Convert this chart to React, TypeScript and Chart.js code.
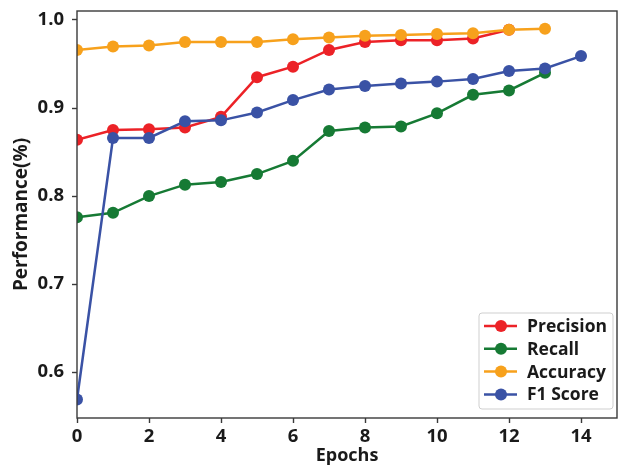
import React, { useEffect, useRef } from "react";
import { Chart, registerables } from "chart.js";

Chart.register(...registerables);

const epochs = [0, 1, 2, 3, 4, 5, 6, 7, 8, 9, 10, 11, 12, 13, 14];
const precision = [0.864, 0.875, 0.876, 0.878, 0.89, 0.935, 0.947, 0.966, 0.975, 0.977, 0.977, 0.979, 0.989];
const recall = [0.776, 0.781, 0.8, 0.813, 0.816, 0.825, 0.84, 0.874, 0.878, 0.879, 0.894, 0.915, 0.92, 0.94];
const accuracy = [0.966, 0.97, 0.971, 0.975, 0.975, 0.975, 0.978, 0.98, 0.982, 0.983, 0.984, 0.985, 0.989, 0.99];
const f1Score = [0.569, 0.866, 0.866, 0.885, 0.886, 0.895, 0.909, 0.921, 0.925, 0.928, 0.93, 0.933, 0.942, 0.945, 0.959];
const xTicks = [0, 2, 4, 6, 8, 10, 12, 14];
const yTicks = [0.6, 0.7, 0.8, 0.9, 1.0];

const seriesNames = ["Precision", "Recall", "Accuracy", "F1 Score"];
const seriesValues = [precision, recall, accuracy, f1Score];
const seriesColors = ["#ec2227", "#167a34", "#f7a11c", "#3a52a5"];

const FONT = "'Open Sans', 'DejaVu Sans', sans-serif";
const TEXT = "#1a1a1a";
const AXIS = "#3a3a3a";

const framePlugin = {
  id: "frameAndLegend",
  afterDraw(chart: any) {
    const { ctx, chartArea } = chart;
    const { left, right, top, bottom } = chartArea;
    ctx.save();
    ctx.strokeStyle = AXIS;
    ctx.lineWidth = 1.4;
    ctx.strokeRect(left, top, right - left, bottom - top);

    // legend box
    const bw = 134;
    const bh = 96;
    const bx = right - 4 - bw;
    const by = bottom - 9 - bh;
    ctx.fillStyle = "rgba(255,255,255,0.85)";
    ctx.strokeStyle = "#cfcfcf";
    ctx.lineWidth = 1;
    ctx.beginPath();
    const r = 3;
    ctx.moveTo(bx + r, by);
    ctx.lineTo(bx + bw - r, by);
    ctx.quadraticCurveTo(bx + bw, by, bx + bw, by + r);
    ctx.lineTo(bx + bw, by + bh - r);
    ctx.quadraticCurveTo(bx + bw, by + bh, bx + bw - r, by + bh);
    ctx.lineTo(bx + r, by + bh);
    ctx.quadraticCurveTo(bx, by + bh, bx, by + bh - r);
    ctx.lineTo(bx, by + r);
    ctx.quadraticCurveTo(bx, by, bx + r, by);
    ctx.closePath();
    ctx.fill();
    ctx.stroke();

    ctx.font = `bold 17.5px ${FONT}`;
    ctx.textBaseline = "middle";
    ctx.textAlign = "left";
    seriesNames.forEach((name, i) => {
      const y = by + 13 + i * 22.8;
      ctx.strokeStyle = seriesColors[i];
      ctx.lineWidth = 2.5;
      ctx.beginPath();
      ctx.moveTo(bx + 5, y);
      ctx.lineTo(bx + 38, y);
      ctx.stroke();
      ctx.fillStyle = seriesColors[i];
      ctx.beginPath();
      ctx.arc(bx + 22, y, 6, 0, Math.PI * 2);
      ctx.fill();
      ctx.fillStyle = TEXT;
      ctx.fillText(name, bx + 48, y + 1);
    });
    ctx.restore();
  },
};

export default function App() {
  const canvasRef = useRef<HTMLCanvasElement | null>(null);

  useEffect(() => {
    document.body.style.margin = "0";
    const canvas = canvasRef.current;
    if (!canvas) return;
    const datasets = seriesNames.map((name, i) => ({
      label: name,
      data: seriesValues[i].map((v, j) => ({ x: epochs[j], y: v })),
      borderColor: seriesColors[i],
      backgroundColor: seriesColors[i],
      pointBackgroundColor: seriesColors[i],
      pointBorderColor: seriesColors[i],
      borderWidth: 2.5,
      pointRadius: 6,
      pointBorderWidth: 0,
      tension: 0,
      fill: false,
      clip: 0,
      order: seriesNames.length - i,
    }));
    const chart = new Chart(canvas, {
      type: "line",
      data: { datasets },
      options: {
        animation: false,
        responsive: false,
        maintainAspectRatio: false,
        layout: { padding: { top: 11, right: 9, bottom: 0, left: 0 } },
        plugins: {
          legend: { display: false },
          tooltip: { enabled: false },
        },
        scales: {
          x: {
            type: "linear",
            min: 0,
            max: 15,
            afterBuildTicks: (scale: any) => {
              scale.ticks = xTicks.map((v) => ({ value: v }));
            },
            afterFit: (scale: any) => {
              scale.height = 48;
              scale.paddingLeft = 0;
              scale.paddingRight = 0;
            },
            grid: {
              drawOnChartArea: false,
              drawTicks: true,
              tickLength: 5,
              tickColor: AXIS,
              tickWidth: 1.4,
            },
            border: { display: false },
            ticks: {
              padding: 3,
              color: TEXT,
              font: { family: FONT, size: 18.5, weight: "bold" },
              callback: (v: any) => String(v),
              maxRotation: 0,
            },
            title: {
              display: true,
              text: "Epochs",
              color: TEXT,
              font: { family: FONT, size: 18, weight: "bold", lineHeight: 1.1 },
              padding: { top: 0, bottom: 0 },
            },
          },
          y: {
            type: "linear",
            min: 0.548,
            max: 1.0102,
            afterBuildTicks: (scale: any) => {
              scale.ticks = yTicks.map((v) => ({ value: v }));
            },
            afterFit: (scale: any) => {
              scale.width = 77;
              scale.paddingTop = 0;
              scale.paddingBottom = 0;
            },
            grid: {
              drawOnChartArea: false,
              drawTicks: true,
              tickLength: 5,
              tickColor: AXIS,
              tickWidth: 1.4,
            },
            border: { display: false },
            ticks: {
              padding: 8,
              color: TEXT,
              font: { family: FONT, size: 18.5, weight: "bold" },
              callback: (v: any) => Number(v).toFixed(1),
            },
            title: {
              display: true,
              text: "Performance(%)",
              color: TEXT,
              font: { family: FONT, size: 19, weight: "bold", lineHeight: 1.1 },
              padding: { top: 11, bottom: 0 },
            },
          },
        },
      },
      plugins: [framePlugin],
    });
    return () => chart.destroy();
  }, []);

  return (
    <div style={{ width: 626, height: 466, position: "relative", background: "#fff" }}>
      <canvas ref={canvasRef} width={626} height={466} style={{ display: "block" }} />
    </div>
  );
}
